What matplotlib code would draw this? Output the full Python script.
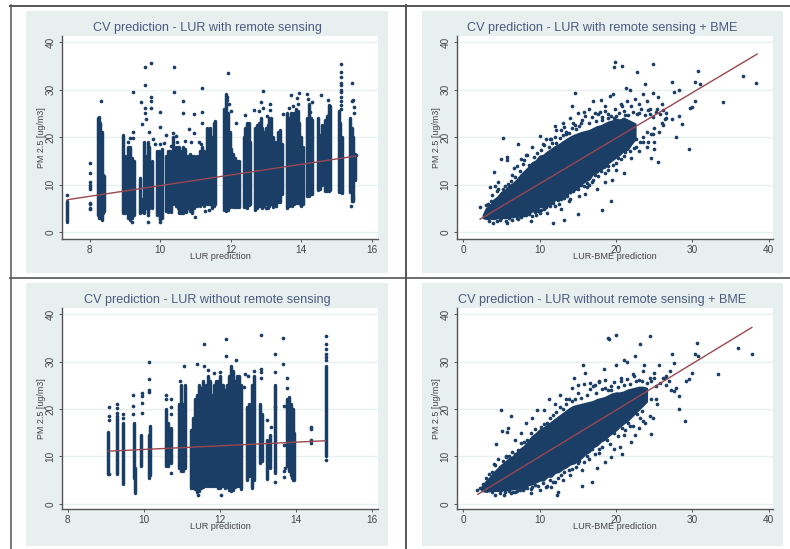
import matplotlib
matplotlib.use("Agg")
import matplotlib.pyplot as plt

plt.rcParams['font.family'] = ['Liberation Sans', 'DejaVu Sans']

W, H = 790, 549
NAVY = '#1a3e66'
MAROON = '#9a4750'
BG = '#e8f0ef'
INK = '#4a5a80'

titles = ['CV prediction - LUR with remote sensing',
          'CV prediction - LUR with remote sensing + BME',
          'CV prediction - LUR without remote sensing',
          'CV prediction - LUR without remote sensing + BME']
xlabels = ['LUR prediction', 'LUR-BME prediction', 'LUR prediction', 'LUR-BME prediction']
ylabel = 'PM 2.5 [ug/m3]'
lur_ticks = [8, 10, 12, 14, 16]
bme_ticks = [0, 10, 20, 30, 40]
y_ticks = [0, 10, 20, 30, 40]

# Panel 1: columns of observations (prediction, lowest, highest)
tl_strips = [
    (7.37, 2.2, 6.6), (8.25, 3.5, 24.0), (8.28, 3.0, 24.3), (8.31, 3.0, 23.0), (8.34, 2.5, 21.0),
    (8.38, 4.0, 12.0), (8.42, 4.5, 11.8), (8.96, 4.0, 20.5), (9.0, 4.0, 16.0), (9.08, 3.0, 18.0),
    (9.14, 2.6, 18.0), (9.2, 3.0, 15.5), (9.25, 3.5, 15.0), (9.43, 4.0, 11.3), (9.48, 4.2, 7.0),
    (9.55, 4.0, 19.0), (9.6, 5.0, 16.0), (9.65, 4.0, 19.0), (9.7, 5.0, 18.0), (9.76, 5.0, 15.0), (9.92, 3.5, 17.0),
    (9.96, 4.0, 17.0), (10.0, 2.6, 16.0), (10.05, 3.0, 17.5), (10.17, 4.5, 16.0), (10.22, 4.2, 17.0),
    (10.27, 5.0, 17.0), (10.32, 4.2, 15.5), (10.38, 6.0, 20.0), (10.44, 5.5, 18.0), (10.5, 5.0, 18.0),
    (10.55, 4.0, 18.0), (10.6, 4.0, 17.0), (10.65, 4.0, 18.0), (10.7, 4.5, 17.5), (10.75, 4.2, 16.0),
    (10.8, 5.0, 16.0), (10.85, 4.5, 16.5), (10.9, 4.0, 16.0), (10.95, 5.0, 16.0), (11.0, 5.5, 15.0),
    (11.05, 5.5, 16.0), (11.12, 5.5, 17.0), (11.18, 6.0, 18.0), (11.25, 5.5, 17.0), (11.32, 5.8, 22.0),
    (11.37, 6.0, 21.0), (11.42, 6.0, 22.0), (11.47, 5.0, 20.0), (11.52, 5.5, 23.0), (11.56, 6.0, 23.3),
    (11.82, 4.6, 26.0), (11.87, 4.5, 29.0), (11.92, 4.6, 25.0), (11.97, 5.2, 21.0), (12.02, 6.0, 17.5),
    (12.07, 5.2, 16.5), (12.13, 5.2, 15.5), (12.18, 5.2, 15.0), (12.24, 5.2, 15.0), (12.37, 5.2, 20.0),
    (12.42, 5.2, 22.0), (12.47, 5.0, 23.0), (12.52, 5.6, 23.0), (12.56, 6.0, 19.0), (12.7, 4.6, 22.0),
    (12.75, 5.0, 22.5), (12.8, 5.5, 23.0), (12.85, 5.5, 24.0), (12.9, 5.0, 22.0), (12.95, 5.5, 21.0),
    (13.0, 6.0, 22.0), (13.05, 5.0, 22.5), (13.1, 5.5, 24.0), (13.15, 6.0, 24.0), (13.2, 5.2, 20.0),
    (13.25, 6.0, 19.0), (13.3, 6.0, 18.5), (13.35, 6.3, 21.0), (13.4, 6.3, 21.5), (13.45, 8.0, 18.5),
    (13.6, 5.0, 25.0), (13.65, 5.5, 24.0), (13.7, 6.0, 25.0), (13.75, 5.5, 25.0), (13.8, 6.0, 25.0),
    (13.85, 6.2, 26.0), (13.9, 6.2, 25.5), (13.95, 6.2, 23.0), (14.0, 5.5, 20.0), (14.05, 6.0, 18.0), (14.17, 7.5, 24.0),
    (14.22, 7.5, 27.0), (14.27, 8.0, 24.0), (14.31, 8.0, 23.5), (14.48, 8.8, 24.0), (14.53, 9.0, 20.5),
    (14.58, 10.0, 22.5), (14.67, 8.6, 23.5), (14.72, 8.6, 24.5), (14.78, 8.6, 26.8), (14.83, 8.8, 26.5),
    (15.06, 8.5, 25.5), (15.1, 8.4, 23.0), (15.15, 8.2, 20.0), (15.4, 8.5, 24.0), (15.44, 7.0, 22.0),
    (15.48, 6.5, 20.0), (15.52, 11.0, 16.5),
]
tl_x = [8.0, 8.0, 8.0, 8.0, 8.0, 8.0, 8.0, 8.0, 8.0, 8.0, 7.37, 8.33, 9.22, 9.22, 9.22, 9.47, 9.57, 9.57, 9.57,
        9.57, 9.73, 9.73, 9.73, 9.73, 9.48, 9.67, 9.21, 10.0, 10.0, 10.0, 10.0, 10.18, 10.4, 10.4, 10.45, 10.38,
        10.65, 10.65, 10.82, 10.97, 10.97, 11.18, 11.18, 11.18, 11.1, 11.92, 12.93, 13.13, 12.85, 12.65, 14.18,
        14.55, 15.12, 15.12, 15.12, 15.12, 15.12, 15.12, 15.12, 15.12, 15.12, 15.12, 15.12, 15.45, 15.48, 15.43,
        15.5, 15.5, 15.55, 13.72, 13.88, 13.95, 14.3, 14.77, 12.42, 12.14, 12.0, 11.95, 11.9, 11.9, 9.67, 10.0,
        11.0, 11.28, 11.38, 14.0, 13.5, 13.3, 13.0, 15.42, 15.45, 15.47, 9.1, 9.14, 9.6, 9.68, 9.8, 9.85, 10.1,
        10.3, 10.48, 10.72, 10.88, 11.15, 12.8, 12.92, 13.02, 13.12, 13.65, 13.78, 13.92, 14.2, 14.25, 14.8]
tl_y = [14.5, 12.4, 10.5, 10.0, 9.5, 9.0, 6.2, 5.8, 5.0, 4.8, 7.8, 27.6, 29.4, 21.0, 19.7, 27.4, 34.7, 31.0, 26.2,
        25.0, 35.7, 28.5, 27.5, 26.2, 22.8, 2.0, 2.0, 25.2, 22.2, 18.5, 2.0, 20.5, 34.8, 29.4, 20.3, 20.9,
        27.7, 25.1, 21.7, 24.8, 20.8, 30.3, 25.3, 23.0, 19.0, 33.5, 29.8, 27.0, 27.3, 25.6, 29.1,
        28.8, 35.3, 33.7, 32.7, 31.5, 31.0, 30.0, 29.5, 28.5, 27.5, 26.7, 26.0, 31.5, 27.8, 27.6,
        26.4, 25.0, 16.2, 28.9, 28.2, 29.2, 27.4, 27.9, 24.6, 22.9, 25.5, 27.0, 27.8, 28.5, 3.5, 3.0,
        3.2, 4.5, 4.6, 5.6, 24.8, 5.4, 5.0, 5.5, 6.5, 7.2, 19.0, 19.8, 23.8, 21.0, 19.5, 18.5, 18.8,
        18.2, 19.0, 19.2, 18.9, 18.5, 25.5, 26.2, 24.5, 25.8, 26.2, 26.6, 27.0, 28.0, 25.2, 24.8]
tl_fit_x = [7.37, 15.55]
tl_fit_y = [6.8, 16.0]

# Panel 3: columns of observations (prediction, lowest, highest)
bl_strips = [
    (9.07, 6.3, 15.2), (9.3, 6.3, 18.0), (9.46, 4.2, 17.0), (9.74, 5.5, 17.0), (9.76, 2.2, 7.5),
    (9.93, 8.0, 14.5), (10.14, 5.5, 14.5), (10.16, 6.0, 16.5), (10.6, 8.0, 20.0), (10.65, 8.0, 17.0),
    (10.72, 8.5, 16.0), (10.92, 7.5, 21.0), (10.97, 7.0, 25.0), (11.04, 7.0, 21.0), (11.09, 7.5, 25.0),
    (11.25, 3.4, 15.5), (11.3, 3.4, 18.0), (11.35, 3.2, 22.0), (11.4, 2.4, 23.0), (11.45, 2.8, 25.0),
    (11.5, 3.4, 24.5), (11.55, 3.6, 26.0), (11.6, 3.8, 24.0), (11.65, 3.8, 25.0), (11.7, 3.8, 27.0),
    (11.75, 3.8, 26.0), (11.8, 3.8, 23.0), (11.85, 3.8, 25.0), (11.9, 3.8, 26.0), (11.95, 3.4, 26.0),
    (12.0, 3.4, 27.0), (12.05, 3.8, 25.0), (12.1, 3.8, 25.0), (12.15, 3.4, 24.0), (12.2, 3.6, 25.0),
    (12.25, 3.0, 27.0), (12.3, 2.8, 29.0), (12.35, 3.0, 28.0), (12.4, 3.6, 26.0), (12.45, 3.8, 27.0),
    (12.5, 3.8, 27.0), (12.55, 3.2, 25.0), (12.72, 5.0, 20.5), (12.77, 5.8, 21.0), (12.82, 5.8, 20.0),
    (12.86, 3.4, 25.0), (12.9, 5.0, 27.0), (13.07, 8.5, 21.0), (13.12, 9.0, 19.0), (13.25, 5.2, 13.5),
    (13.33, 7.5, 14.5), (13.47, 6.5, 25.0), (13.78, 8.0, 22.0), (13.83, 7.0, 22.5), (13.87, 6.0, 21.0),
    (13.91, 5.5, 19.5), (13.94, 5.0, 20.0), (13.96, 5.0, 15.0), (14.79, 10.0, 29.0),
]
bl_x = [9.08, 9.08, 9.08, 9.08, 9.3, 9.3, 9.3, 9.3, 9.46, 9.46, 9.73, 9.73, 9.73, 9.95, 9.95, 9.95, 9.95,
        10.14, 10.14, 10.14, 10.14, 10.6, 10.6, 10.72, 10.72, 10.72, 10.96, 11.06, 11.4, 11.6, 11.6, 12.18,
        12.18, 12.42, 13.09, 13.09, 13.09, 13.09, 13.68, 13.68, 13.47, 13.47, 13.47, 13.77, 13.77, 14.41, 14.41,
        14.41, 14.41, 14.79, 14.79, 14.79, 14.79, 14.79, 14.79, 14.79, 13.24, 13.36, 13.45, 13.7, 13.7, 13.72,
        13.7, 13.7, 12.9, 12.75, 12.68, 12.65, 11.7, 12.02, 11.85, 10.72, 12.04, 11.42]
bl_y = [20.5, 18.6, 17.7, 6.2, 21.0, 20.3, 19.2, 18.6, 19.0, 18.0, 23.0, 20.6, 19.0, 23.3, 22.7, 21.2, 19.2,
        29.9, 26.3, 24.0, 23.5, 23.0, 22.0, 22.2, 20.5, 19.0, 26.0, 29.0, 29.4, 33.7, 29.0, 34.7,
        31.2, 30.4, 35.7, 28.4, 27.9, 26.5, 34.9, 29.5, 31.6, 27.9, 4.5, 26.5, 24.5, 16.2, 15.7,
        13.5, 12.8, 35.3, 33.7, 32.7, 31.5, 31.0, 30.3, 9.3, 17.7, 16.2, 20.5, 20.6, 12.4, 7.5,
        6.9, 5.6, 28.0, 27.0, 27.3, 24.6, 28.2, 27.8, 27.6, 6.5, 1.9, 1.9]
bl_fit_x = [9.07, 14.79]
bl_fit_y = [11.1, 13.3]

# Panel 2: dense band as (prediction, lower edge, upper edge)
tr_band = [
    (2.6, 3.0, 3.6), (3.0, 2.8, 5.0), (3.5, 2.9, 5.6), (4.0, 2.8, 6.8), (4.5, 3.0, 7.4), (5.0, 3.1, 8.4),
    (5.5, 3.0, 8.8), (6.0, 3.2, 9.8), (6.5, 3.2, 10.2), (7.0, 3.4, 11.0), (7.5, 3.3, 12.0), (8.0, 3.6, 12.8),
    (8.5, 4.0, 13.6), (9.0, 4.4, 14.6), (9.5, 4.6, 15.0), (10.0, 5.4, 16.0), (10.5, 5.2, 16.2), (11.0, 6.0, 16.9),
    (11.5, 6.0, 17.4), (12.0, 6.8, 18.0), (12.5, 7.0, 18.4), (13.0, 7.6, 19.0), (13.5, 7.8, 19.5), (14.0, 8.6, 20.0),
    (14.5, 8.8, 20.4), (15.0, 9.4, 20.7), (15.5, 10.2, 21.0), (16.0, 10.8, 21.2), (16.5, 11.2, 21.4), (17.0, 12.4, 21.8),
    (17.5, 12.6, 22.2), (18.0, 13.4, 22.4), (18.5, 13.6, 22.8), (19.0, 14.6, 23.2), (19.5, 15.2, 23.4), (20.0, 15.8, 23.8),
    (20.5, 16.4, 23.6), (21.0, 17.2, 24.0), (21.5, 17.4, 23.6), (22.0, 18.6, 23.2), (22.5, 19.6, 22.8),
]
tr_x = [19.9, 19.8, 20.8, 24.8, 22.8, 30.8, 23.8, 27.3, 30.3, 31.0, 36.6, 38.4, 34.0, 30.4, 30.0, 29.7, 29.6, 27.8,
        28.6, 28.2, 27.4, 25.5, 24.6, 18.2, 19.4, 15.0, 13.2, 11.8, 8.9, 5.7, 3.9, 2.2, 5.2, 7.1, 4.0, 4.9, 5.7, 5.7,
        14.6, 14.2, 19.6, 19.2, 21.3, 21.9, 23.6, 24.8, 28.3, 27.6, 10.0, 11.5, 12.0, 12.8, 13.0, 13.5, 14.0, 15.0,
        16.0, 16.5, 17.0, 18.0, 18.5, 19.0, 20.0, 21.0, 22.0, 22.5, 23.0, 24.0, 24.5, 25.5, 26.0, 26.5, 26.0, 25.0,
        24.0, 25.0, 24.0, 25.0, 23.0, 22.0, 21.0, 20.0, 20.0, 21.0, 19.0, 18.0, 19.5, 18.5, 17.0, 17.5, 16.0, 16.5,
        15.0, 14.0, 14.0, 12.5, 12.0, 11.0, 10.0, 9.5, 8.0, 7.0, 6.0, 5.0, 3.0, 3.5, 4.2, 4.6, 5.2, 6.6, 7.6, 8.2,
        9.0, 10.6, 11.4, 12.2, 13.4, 14.6, 15.4, 17.6, 18.2, 19.8, 20.6, 21.6, 23.0, 24.4, 25.4, 26.2, 26.6, 24.6,
        23.6, 22.6, 21.8, 16.2, 15.2, 13.8, 12.8, 10.8, 9.8, 8.6,
        3.2, 3.6, 3.8, 4.4, 4.6, 5.4, 5.8, 6.2, 6.4, 6.8, 7.0, 7.4, 7.8, 8.0, 8.3, 8.6, 9.2, 9.6, 10.2, 10.4, 10.8,
        11.2, 11.6, 12.0, 12.2, 12.6, 13.0, 13.2, 13.8, 14.2, 14.4, 14.8, 15.2, 15.6, 15.8, 16.4, 16.8, 17.2, 17.4,
        17.9, 18.2, 18.6, 19.0, 19.4, 19.9, 20.4, 20.8, 21.2, 21.5, 22.2, 22.8, 23.3, 23.8, 24.2, 24.8, 25.2, 25.8,
        26.4, 22.6, 23.2, 23.6, 24.2, 24.8, 25.6, 26.2, 22.4, 21.6, 21.2, 20.6, 20.2, 19.6, 19.0, 18.6, 18.0, 17.6,
        17.2, 16.8, 16.2, 15.8, 15.4, 14.8, 14.4, 14.0, 13.6, 13.2, 12.8, 12.4, 11.8, 11.4, 11.0, 10.6, 10.2, 9.8,
        9.4, 9.0, 8.6, 8.2, 7.6, 7.2, 6.4, 5.6, 4.8, 4.4, 3.4]
tr_y = [35.8, 34.7, 34.9, 35.3, 33.7, 33.9, 31.2, 31.7, 31.7, 31.2, 32.9, 31.5, 27.3, 27.5, 26.3, 26.1, 17.5, 20.0,
        22.8, 24.4, 23.9, 14.7, 15.5, 4.6, 6.5, 3.8, 2.5, 1.8, 2.3, 1.8, 1.9, 5.3, 19.8, 18.6, 12.6, 15.4, 15.9, 15.1,
        29.2, 26.5, 29.0, 28.6, 30.3, 30.0, 29.0, 29.2, 30.0, 29.5, 20.2, 19.5, 22.3, 21.5, 23.0, 21.0, 24.0, 25.0,
        24.5, 26.0, 27.5, 27.8, 25.5, 24.0, 24.5, 25.5, 26.5, 28.0, 27.0, 27.5, 26.0, 28.5, 27.0, 25.0, 23.0, 22.0,
        21.0, 19.0, 18.0, 17.5, 17.0, 15.5, 16.0, 14.5, 13.0, 12.5, 13.0, 13.5, 11.0, 10.5, 11.0, 9.0, 8.0, 10.0,
        9.0, 8.5, 7.0, 6.0, 5.5, 4.0, 4.0, 3.5, 3.5, 3.0, 3.0, 3.0, 5.6, 9.4, 9.6, 10.6, 9.0, 13.4, 15.4, 16.2,
        18.0, 18.4, 19.5, 18.8, 20.6, 22.5, 23.0, 24.8, 24.2, 24.0, 27.0, 24.6, 25.0, 24.8, 26.0, 25.6, 24.0, 20.6,
        19.0, 18.0, 17.0, 9.5, 7.5, 6.5, 4.8, 5.2, 4.5, 4.0,
        6.0, 6.6, 7.8, 8.6, 9.0, 9.6, 10.2, 10.8, 12.0, 11.6, 13.8, 12.8, 14.4, 15.2, 16.2, 14.2, 15.8, 16.6, 17.2, 18.5, 19.6,
        17.9, 18.8, 20.0, 21.5, 19.7, 20.5, 22.2, 20.8, 22.0, 23.0, 21.8, 22.4, 23.6, 25.2, 22.9, 24.2, 25.0, 23.4,
        25.2, 23.6, 26.5, 24.8, 24.4, 26.0, 25.0, 26.6, 24.6, 27.5, 25.2, 24.8, 26.0, 24.6, 25.6, 24.2, 25.2, 24.8,
        23.8, 19.5, 19.0, 20.0, 19.0, 20.6, 21.0, 22.6, 17.6, 18.2, 16.8, 15.4, 15.6, 14.2, 13.9, 12.4, 12.8, 11.8,
        12.0, 10.6, 10.4, 9.6, 9.8, 9.2, 8.6, 8.4, 7.6, 7.2, 7.0, 6.8, 6.2, 5.4, 5.6, 4.8, 4.6, 4.6,
        4.2, 3.4, 3.8, 3.6, 3.2, 2.8, 2.6, 2.4, 2.6, 2.4, 2.4]
tr_fit_x = [2.2, 38.5]
tr_fit_y = [2.7, 37.5]

# Panel 4: dense band as (prediction, lower edge, upper edge)
br_band = [
    (2.4, 2.8, 3.6), (3.0, 2.6, 4.8), (3.5, 2.8, 5.6), (4.0, 2.8, 6.6), (4.5, 2.8, 7.4), (5.0, 2.9, 8.2),
    (5.5, 3.0, 8.8), (6.0, 3.0, 9.6), (6.5, 3.2, 10.0), (7.0, 3.2, 10.8), (7.5, 3.4, 11.6), (8.0, 3.4, 12.2),
    (8.5, 4.0, 13.2), (9.0, 4.2, 14.2), (9.5, 4.6, 14.8), (10.0, 5.0, 15.6), (10.5, 5.0, 16.0), (11.0, 5.8, 16.6),
    (11.5, 5.8, 17.2), (12.0, 6.6, 17.8), (12.5, 6.8, 18.4), (13.0, 7.4, 19.0), (13.5, 7.8, 19.6), (14.0, 8.4, 20.2),
    (14.5, 8.6, 20.6), (15.0, 9.2, 20.8), (15.5, 9.8, 21.0), (16.0, 10.6, 21.2), (16.5, 11.0, 21.4), (17.0, 12.0, 21.6),
    (17.5, 12.4, 22.0), (18.0, 13.2, 22.2), (18.5, 13.6, 22.4), (19.0, 14.4, 22.8), (19.5, 15.0, 23.2), (20.0, 15.6, 23.4),
    (20.5, 16.4, 23.4), (21.0, 17.0, 23.6), (21.5, 17.6, 24.0), (22.0, 18.4, 24.2), (22.5, 19.2, 24.4), (23.0, 20.0, 24.6),
    (23.5, 20.8, 24.6), (24.0, 21.6, 24.4),
]
br_x = [18.9, 19.1, 20.0, 24.5, 23.2, 30.6, 22.5, 27.4, 30.4, 30.7, 36.0, 37.8, 33.3, 29.9, 29.5, 29.2, 29.0, 28.2,
        28.2, 27.9, 24.6, 20.8, 19.3, 16.9, 15.5, 12.4, 12.3, 8.8, 5.3, 4.2, 1.8, 5.0, 6.2, 4.3, 5.1, 5.8, 5.7,
        15.7, 14.5, 18.4, 20.0, 21.0, 21.5, 23.7, 25.7, 27.6, 27.1, 26.5, 25.0, 24.6, 25.4, 24.4, 23.5, 23.0, 22.5,
        22.0, 21.0, 21.8, 20.5, 19.8, 18.5, 17.5, 17.8, 16.5, 15.5, 15.0, 14.0, 13.0, 12.0, 11.5, 11.0, 10.0, 9.0,
        8.0, 7.0, 6.5, 6.0, 5.0, 3.0, 2.2, 2.6, 3.6, 4.0, 4.6, 5.6, 6.8, 7.6, 8.2, 9.0, 9.6, 10.6, 11.2, 12.0,
        12.6, 13.4, 14.2, 15.0, 16.0, 16.6, 17.2, 17.8, 18.6, 19.4, 20.6, 22.4, 23.6, 24.4, 25.0, 26.2, 26.6, 25.2,
        24.8, 23.8, 23.2, 27.2, 27.6, 27.0,
        3.0, 3.4, 3.8, 4.2, 4.8, 5.2, 5.6, 6.0, 6.4, 6.8, 7.2, 7.6, 8.0, 8.4, 8.8, 9.4, 9.8, 10.2, 10.6, 11.0, 11.4,
        11.8, 12.2, 12.6, 13.0, 13.4, 13.8, 14.2, 14.6, 15.0, 15.4, 15.8, 16.2, 16.6, 17.0, 17.4, 17.8, 18.2, 18.6,
        19.0, 19.4, 19.8, 20.2, 20.6, 21.0, 21.4, 21.8, 22.2, 22.6, 23.0, 23.4, 24.0, 24.6, 25.2, 25.8, 26.4,
        23.4, 22.8, 22.2, 21.6, 21.2, 20.8, 20.2, 19.8, 19.2, 18.8, 18.2, 17.8, 17.2, 16.8, 16.2, 15.8, 15.2, 14.8,
        14.2, 13.8, 13.2, 12.8, 12.4, 11.8, 11.4, 10.8, 10.4, 9.8, 9.4, 8.8, 8.4, 7.8, 7.4, 6.8, 6.2, 5.4, 4.8, 3.8]
br_y = [34.9, 34.7, 35.7, 35.4, 33.7, 33.9, 31.2, 31.6, 31.6, 31.2, 32.9, 31.5, 27.3, 27.5, 26.3, 26.0, 17.5, 20.0,
        22.8, 24.4, 14.7, 10.4, 9.9, 4.5, 3.8, 2.5, 1.8, 2.2, 1.8, 1.8, 2.9, 19.8, 18.6, 12.6, 15.4, 15.9, 15.2,
        29.3, 26.5, 28.4, 29.3, 30.3, 30.0, 29.2, 29.2, 29.8, 28.0, 27.0, 26.5, 22.0, 21.0, 18.5, 17.5, 16.0, 14.5,
        13.0, 14.5, 16.5, 12.0, 11.5, 8.8, 7.5, 11.5, 9.5, 7.2, 8.5, 6.0, 5.0, 4.5, 3.5, 3.8, 3.0, 3.5,
        3.3, 2.8, 2.5, 2.6, 3.0, 3.2, 3.4, 4.2, 5.2, 8.4, 9.4, 10.0, 13.4, 15.0, 17.0, 18.0, 19.8, 19.7, 22.0, 21.0,
        23.0, 22.0, 24.5, 25.0, 27.5, 25.5, 25.0, 26.0, 24.5, 24.0, 26.5, 27.0, 28.0, 26.5, 27.5, 26.5, 25.0, 22.0,
        18.0, 17.0, 18.2, 24.0, 23.8, 26.0,
        5.4, 6.2, 6.8, 8.2, 7.8, 9.0, 9.8, 10.0, 11.0, 10.4, 11.4, 12.8, 13.0, 13.4, 15.0, 15.8, 15.0, 16.2, 16.8, 17.0, 18.2,
        18.8, 19.4, 20.4, 20.0, 21.0, 22.2, 21.6, 22.0, 23.4, 22.4, 25.2, 23.0, 24.2, 24.8, 23.4, 25.6, 24.2, 26.2,
        24.0, 24.8, 25.6, 24.6, 26.0, 25.0, 26.4, 25.2, 27.4, 25.8, 26.2, 26.0, 25.4, 25.8, 24.8, 25.4, 26.6,
        19.5, 19.0, 16.4, 17.0, 15.6, 16.0, 14.2, 15.0, 12.6, 13.4, 12.0, 10.8, 10.6, 11.6, 10.0, 8.8, 9.0, 7.8,
        7.4, 7.2, 6.6, 6.0, 5.4, 4.6, 5.0, 3.6, 4.4, 3.8, 4.0, 3.2, 3.4, 2.9, 3.0, 2.4, 2.2, 2.4, 2.2, 2.4]
br_fit_x = [1.9, 37.8]
br_fit_y = [2.0, 37.2]


def px_rect(x0, y0, x1, y1):
    return [x0 / W, 1 - y1 / H, (x1 - x0) / W, (y1 - y0) / H]


fig = plt.figure(figsize=(W / 100, H / 100), dpi=100, facecolor='white')

# outer frame lines
overlay = fig.add_axes([0, 0, 1, 1], zorder=5)
overlay.set_xlim(0, W)
overlay.set_ylim(H, 0)
overlay.axis('off')
overlay.patch.set_alpha(0)
FRAME = '#555555'
overlay.plot([10, 790], [5.5, 5.5], color=FRAME, lw=1.4)
overlay.plot([10.5, 10.5], [5, 549], color=FRAME, lw=1.1)
overlay.plot([405.5, 405.5], [5, 549], color=FRAME, lw=1.4)
overlay.plot([10, 790], [277.5, 277.5], color=FRAME, lw=1.2)


def panel(idx, bg, plot, xlim, ylim, xticks, strips=None, band=None, pts=None, fit=None):
    bga = fig.add_axes(px_rect(*bg), zorder=1)
    bga.set_xticks([])
    bga.set_yticks([])
    bga.set_facecolor(BG)
    for s in bga.spines.values():
        s.set_visible(False)

    ax = fig.add_axes(px_rect(*plot), zorder=2)
    ax.set_xlim(*xlim)
    ax.set_ylim(*ylim)
    ax.set_facecolor('white')
    for side in ('top', 'right'):
        ax.spines[side].set_visible(False)
    for side in ('left', 'bottom'):
        ax.spines[side].set_color('#555555')
        ax.spines[side].set_linewidth(1.0)
    ax.set_xticks(xticks)
    ax.set_yticks(y_ticks)
    ax.tick_params(axis='both', length=2.5, width=0.7, color='#555555', labelcolor='#444444', labelsize=7.2, pad=2)
    for lab in ax.get_yticklabels():
        lab.set_rotation(90)
        lab.set_va('center')
    ax.grid(axis='y', color=BG, lw=1.0)
    ax.set_axisbelow(True)
    if strips:
        for x, lo, hi in strips:
            ax.vlines(x, lo, hi, color=NAVY, lw=2.5, zorder=3, capstyle='round')
    if band:
        bx, blo, bhi = zip(*band)
        ax.fill_between(bx, blo, bhi, color=NAVY, lw=1.5, zorder=3)
    ax.scatter(pts[0], pts[1], s=7, color=NAVY, linewidths=0, zorder=3)
    ax.plot(fit[0], fit[1], color=MAROON, lw=1.0, zorder=4)
    ax.set_xlabel(xlabels[idx], fontsize=6.6, color='#444444', labelpad=-2.2)
    ax.set_ylabel(ylabel, fontsize=6.4, color='#444444', labelpad=-0.5)
    x_center = (bg[0] + bg[2]) / 2
    fig.text(x_center / W, 1 - (plot[1] - 8) / H, titles[idx], fontsize=9.1, color=INK,
             ha='center', va='center', zorder=6)
    return ax


panel(0, (26, 11, 388, 273), (62, 36, 378, 239), (7.22, 16.18), (-1.48, 41.3), lur_ticks,
      strips=tl_strips, pts=(tl_x, tl_y), fit=(tl_fit_x, tl_fit_y))
panel(1, (422, 11, 783, 273), (457, 36, 773, 239), (-0.83, 40.57), (-1.48, 41.3), bme_ticks,
      band=tr_band, pts=(tr_x, tr_y), fit=(tr_fit_x, tr_fit_y))
panel(2, (26, 283, 388, 546), (62, 308, 378, 509), (7.85, 16.17), (-1.1, 41.3), lur_ticks,
      strips=bl_strips, pts=(bl_x, bl_y), fit=(bl_fit_x, bl_fit_y))
panel(3, (422, 283, 783, 546), (457, 308, 773, 509), (-0.83, 40.57), (-1.1, 41.3), bme_ticks,
      band=br_band, pts=(br_x, br_y), fit=(br_fit_x, br_fit_y))

fig.savefig('out.png', dpi=100)
